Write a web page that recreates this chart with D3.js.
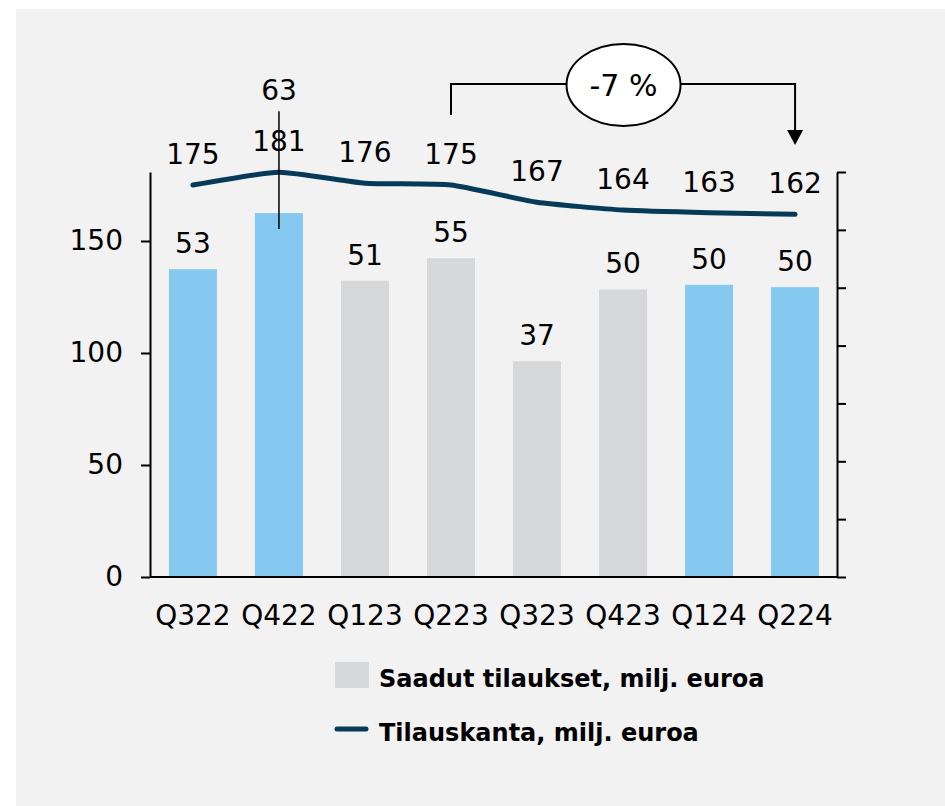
<!DOCTYPE html>
<html><head><meta charset="utf-8">
<script src="https://cdn.jsdelivr.net/npm/d3@7/dist/d3.min.js"></script>
<style>html,body{margin:0;padding:0;background:#fff;}svg{display:block;font-family:"DejaVu Sans",Verdana,sans-serif;}</style>
</head><body>
<script>
const categories = ["Q322","Q422","Q123","Q223","Q323","Q423","Q124","Q224"];
const orders = [53.2, 62.9, 51.2, 55.1, 37.3, 49.7, 50.5, 50.1];
const orderLabels = ["53","63","51","55","37","50","50","50"];
const highlighted = [true, true, false, false, false, false, true, true];
const backlog = [175, 180.7, 175.8, 175, 167.3, 163.8, 162.6, 161.9];
const backlogLabels = ["175","181","176","175","167","164","163","162"];
const leftTicks = [0, 50, 100, 150];
const rightTicks = [0, 10, 20, 30, 40, 50, 60, 70];
const changeLabel = "-7 %";
const changeFrom = "Q223", changeTo = "Q224";
const legendLabels = ["Saadut tilaukset, milj. euroa", "Tilauskanta, milj. euroa"];

const W = 945, H = 806;
const svg = d3.select("body").append("svg").attr("width", W).attr("height", H);
svg.append("rect").attr("x",16).attr("y",9).attr("width",W-16).attr("height",H-9).attr("fill","#f2f2f2");

const x = d3.scaleBand().domain(categories).range([150, 838]).paddingInner(0.442).paddingOuter(0.22);
const yL = d3.scaleLinear().domain([0, 180.8]).range([577, 172]);
const yR = d3.scaleLinear().domain([0, 70]).range([577, 172]);

const BLUE = "#85c8f0", GRAY = "#d6d7d9", NAVY = "#063a56";

// bars
svg.append("g").selectAll("rect").data(categories).join("rect")
  .attr("x", d => x(d)).attr("width", x.bandwidth())
  .attr("y", (d,i) => yR(orders[i])).attr("height", (d,i) => yR(0) - yR(orders[i]))
  .attr("fill", (d,i) => highlighted[i] ? BLUE : GRAY);

// axes
const axL = svg.append("g").attr("transform","translate(150,0)")
  .call(d3.axisLeft(yL).tickValues(leftTicks).tickSize(9).tickSizeOuter(0).tickPadding(18).tickFormat(d3.format("d")));
const axR = svg.append("g").attr("transform","translate(837,0)")
  .call(d3.axisRight(yR).tickValues(rightTicks).tickSize(9).tickSizeOuter(0).tickFormat(""));
[axL, axR].forEach(a => {
  a.select(".domain").attr("stroke","#000").attr("stroke-width",2);
  a.selectAll(".tick line").attr("stroke","#000").attr("stroke-width",2);
  a.selectAll("text").attr("font-size",28).attr("fill","#000").attr("font-family","DejaVu Sans");
});
svg.append("line").attr("x1",150).attr("x2",837).attr("y1",yL(0)).attr("y2",yL(0)).attr("stroke","#000").attr("stroke-width",2);

// x labels
svg.append("g").selectAll("text").data(categories).join("text")
  .attr("x", d => x(d) + x.bandwidth()/2).attr("y", 625)
  .attr("text-anchor","middle").attr("font-size",28).text(d => d);

// line
const cx = d => x(d) + x.bandwidth()/2;
const line = d3.line().x((d,i) => cx(categories[i])).y(d => yL(d)).curve(d3.curveCardinal.tension(0.5));
svg.append("path").datum(backlog).attr("d", line).attr("fill","none")
  .attr("stroke", NAVY).attr("stroke-width",5).attr("stroke-linecap","round");

// bar labels (Q422 label lifted with leader line)
const liftIdx = 1;
svg.append("g").selectAll("text").data(categories).join("text")
  .attr("x", d => cx(d))
  .attr("y", (d,i) => i === liftIdx ? yL(backlog[i]) - 72 : yR(orders[i]) - 16)
  .attr("text-anchor","middle").attr("font-size",28).text((d,i) => orderLabels[i]);
svg.append("line").attr("x1", cx(categories[liftIdx])).attr("x2", cx(categories[liftIdx]))
  .attr("y1", yL(backlog[liftIdx]) - 61).attr("y2", yR(orders[liftIdx]) + 16)
  .attr("stroke","#000").attr("stroke-width",1.5);

// line labels
svg.append("g").selectAll("text").data(categories).join("text")
  .attr("x", d => cx(d)).attr("y", (d,i) => yL(backlog[i]) - 21)
  .attr("text-anchor","middle").attr("font-size",28).text((d,i) => backlogLabels[i]);

// change annotation
const x1 = cx(changeFrom), x2 = cx(changeTo), yTop = 84;
const ex = (x1 + x2) / 2 + 0.5, ey = 85;
svg.append("path").attr("d", `M${x1},115V${yTop}H${x2}V132`).attr("fill","none").attr("stroke","#000").attr("stroke-width",2);
svg.append("path").attr("d", `M${x2-8},130L${x2+8},130L${x2},145Z`).attr("fill","#000");
svg.append("ellipse").attr("cx", ex).attr("cy", ey).attr("rx",57).attr("ry",41)
  .attr("fill","#fff").attr("stroke","#000").attr("stroke-width",2);
svg.append("text").attr("x", ex).attr("y", ey + 11).attr("text-anchor","middle").attr("font-size",30).text(changeLabel);

// legend
svg.append("rect").attr("x",335).attr("y",662).attr("width",34).attr("height",26).attr("fill",GRAY);
svg.append("text").attr("x",379).attr("y",687).attr("font-size",24).attr("font-weight","bold").text(legendLabels[0]);
svg.append("line").attr("x1",337).attr("x2",366).attr("y1",729).attr("y2",729).attr("stroke",NAVY).attr("stroke-width",5).attr("stroke-linecap","round");
svg.append("text").attr("x",379).attr("y",741).attr("font-size",24).attr("font-weight","bold").text(legendLabels[1]);
</script>
</body></html>
